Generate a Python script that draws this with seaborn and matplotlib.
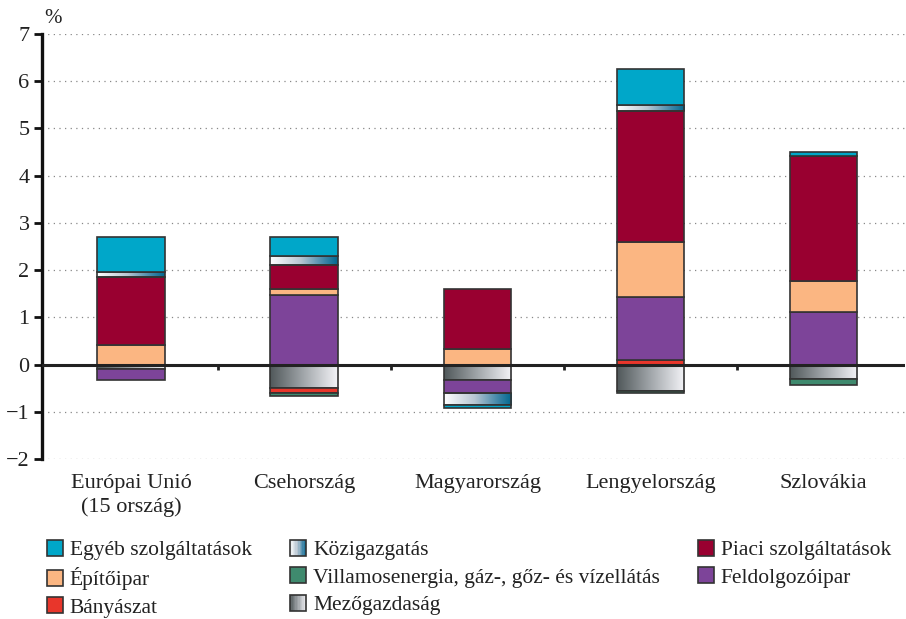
import numpy as np
import pandas as pd
import matplotlib
matplotlib.use("Agg")
import matplotlib.pyplot as plt
import seaborn as sns
from matplotlib.colors import LinearSegmentedColormap
from matplotlib.patches import Rectangle
from matplotlib.legend_handler import HandlerBase

# Data (percentage points)
countries = ["Európai Unió\n(15 ország)", "Csehország", "Magyarország",
             "Lengyelország", "Szlovákia"]
sectors = ["Egyéb szolgáltatások", "Építőipar", "Bányászat",
           "Közigazgatás", "Villamosenergia, gáz-, gőz- és vízellátás",
           "Mezőgazdaság", "Piaci szolgáltatások", "Feldolgozóipar"]

bányászat = [0.00, -0.10, 0.00, 0.10, 0.00]
feldolgozó = [-0.22, 1.48, -0.28, 1.33, 1.12]
építő = [0.42, 0.12, 0.33, 1.17, 0.65]
piaci = [1.43, 0.50, 1.27, 2.77, 2.65]
közig = [0.12, 0.20, -0.25, 0.13, 0.00]
egyéb = [0.73, 0.40, -0.08, 0.75, 0.08]
mező = [-0.10, -0.50, -0.32, -0.55, -0.30]
villamos = [0.00, -0.06, 0.00, -0.05, -0.13]

# stacking order: positives upward, negatives downward
stack_order = [
    ("Mezőgazdaság", mező),
    ("Bányászat", bányászat),
    ("Villamosenergia, gáz-, gőz- és vízellátás", villamos),
    ("Feldolgozóipar", feldolgozó),
    ("Építőipar", építő),
    ("Piaci szolgáltatások", piaci),
    ("Közigazgatás", közig),
    ("Egyéb szolgáltatások", egyéb),
]

colors = {
    "Egyéb szolgáltatások": "#00a7c9",
    "Közigazgatás": "#5a8fae",
    "Piaci szolgáltatások": "#990030",
    "Építőipar": "#fbb682",
    "Villamosenergia, gáz-, gőz- és vízellátás": "#3f8a6e",
    "Feldolgozóipar": "#7d4499",
    "Bányászat": "#e8362b",
    "Mezőgazdaság": "#9a9fa3",
}
gradients = {
    "Közigazgatás": LinearSegmentedColormap.from_list(
        "kozig", [(0, "#ffffff"), (0.45, "#b8c6d2"), (0.8, "#3f86a8"), (1, "#00688f")]),
    "Mezőgazdaság": LinearSegmentedColormap.from_list(
        "mezo", [(0, "#50585a"), (0.5, "#a2a7ab"), (1, "#f4f4f8")]),
}

sns.set_theme(style="white")
plt.rcParams["font.family"] = ["Liberation Serif", "DejaVu Serif"]
edge = "#333333"

fig = plt.figure(figsize=(9.06, 6.19), dpi=100)
ax = fig.add_axes([0.0464, 0.2585, 0.9526, 0.6866])

pos_base = np.zeros(len(countries))
neg_base = np.zeros(len(countries))
for name, vals in stack_order:
    vals = np.array(vals)
    bottom = np.where(vals >= 0, pos_base, neg_base)
    df = pd.DataFrame({"country": countries, "value": vals})
    n_before = len(ax.patches)
    sns.barplot(data=df, x="country", y="value", color=colors[name],
                width=0.39, bottom=bottom, edgecolor=edge, linewidth=1.2,
                saturation=1, errorbar=None, ax=ax, zorder=3)
    new_patches = ax.patches[n_before:]
    if name in gradients:
        for p in new_patches:
            if p.get_height() == 0:
                continue
            x0, y0 = p.get_x(), p.get_y()
            w, h = p.get_width(), p.get_height()
            p.set_facecolor("none")
            grad = np.linspace(0, 1, 256).reshape(1, -1)
            im = ax.imshow(grad, cmap=gradients[name], aspect="auto",
                           extent=(x0, x0 + w, min(y0, y0 + h), max(y0, y0 + h)),
                           zorder=2.9, interpolation="bicubic")
            im.set_clip_path(p)
    for p in new_patches:
        if p.get_height() == 0:
            p.set_visible(False)
    pos_base = pos_base + np.where(vals >= 0, vals, 0)
    neg_base = neg_base + np.where(vals < 0, vals, 0)

ax.set_xlim(-0.514, 4.47)
ax.set_ylim(-2, 7)
ax.set_aspect("auto")

# grid, zero line
for yv in range(-2, 8):
    if yv != 0:
        ax.axhline(yv, color="#888888", lw=0.9, ls=(0, (1, 3.5)), zorder=1)
ax.axhline(0, color="#222222", lw=2.2, zorder=4)

sns.despine(ax=ax, top=True, right=True, bottom=True)
ax.spines["left"].set_color("#111111")
ax.spines["left"].set_linewidth(2.4)
ax.set_yticks(range(-2, 8))
ax.set_yticklabels([str(v).replace("-", "−") for v in range(-2, 8)], fontsize=16)
ax.tick_params(axis="y", direction="out", length=6, width=2, color="#111111",
               left=True, pad=3, labelcolor="#222222")

ax.set_xticks(range(len(countries)))
ax.set_xticklabels(countries, fontsize=16, color="#222222", linespacing=1.25)
ax.tick_params(axis="x", length=0, pad=11)
for xb in [0.5, 1.5, 2.5, 3.5]:
    ax.plot([xb, xb], [0, -0.12], color="#222222", lw=2, zorder=4,
            solid_capstyle="butt")
ax.set_xlabel("")
ax.set_ylabel("")
ax.text(0.003, 1.015, "%", transform=ax.transAxes, fontsize=15,
        color="#222222", ha="left", va="bottom")


class GradHandler(HandlerBase):
    def __init__(self, cmap):
        super().__init__()
        self.cmap = cmap

    def create_artists(self, legend, orig_handle, xdescent, ydescent,
                       width, height, fontsize, trans):
        arts = []
        n = 12
        for i in range(n):
            r = Rectangle((-xdescent + i * width / n, -ydescent),
                          width / n, height, facecolor=self.cmap((i + 0.5) / n),
                          edgecolor="none", transform=trans)
            arts.append(r)
        arts.append(Rectangle((-xdescent, -ydescent), width, height,
                              facecolor="none", edgecolor=edge, lw=1.2,
                              transform=trans))
        return arts


handles = []
handler_map = {}
for name in sectors:
    h = Rectangle((0, 0), 1, 1, facecolor=colors[name], edgecolor=edge, lw=1.2)
    if name in gradients:
        handler_map[h] = GradHandler(gradients[name])
    handles.append(h)

fig.legend(handles, sectors, handler_map=handler_map, ncol=3,
           loc="upper left", bbox_to_anchor=(0.0515, 0.128),
           frameon=False, fontsize=15.5, handlelength=0.78, handleheight=0.78,
           handletextpad=0.3, columnspacing=1.75, labelspacing=0.32,
           borderaxespad=0, borderpad=0)
for t in fig.legends[0].get_texts():
    t.set_color("#222222")

fig.savefig("out.png", dpi=100)
